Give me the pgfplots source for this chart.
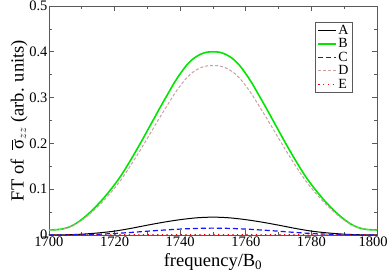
\documentclass[border=0pt]{standalone}
\usepackage{pgfplots}
\pgfplotsset{compat=1.18}
\usepackage{pgfplotstable}
\usepackage{fontspec}
\setmainfont{Liberation Serif}
\definecolor{cB}{RGB}{0,230,0}
\definecolor{cC}{RGB}{20,20,255}
\definecolor{cD}{RGB}{200,160,160}
\definecolor{cE}{RGB}{240,0,0}
\definecolor{frame}{RGB}{90,90,90}
\pgfplotstableread{
x B D
1700 0.011 0.011
1702 0.0115 0.0115
1704 0.013 0.0128
1706 0.017 0.0165
1708 0.024 0.0230
1710 0.034 0.0322
1712 0.046 0.0433
1714 0.060 0.0562
1716 0.075 0.0701
1718 0.092 0.0858
1720 0.110 0.1024
1722 0.130 0.1208
1724 0.153 0.1421
1726 0.177 0.1642
1728 0.202 0.1873
1730 0.228 0.2113
1732 0.254 0.2353
1734 0.280 0.2593
1736 0.305 0.2824
1738 0.330 0.3054
1740 0.352 0.3257
1742 0.371 0.3433
1744 0.385 0.3562
1746 0.394 0.3645
1748 0.399 0.3691
1750 0.400 0.3700
1752 0.399 0.3691
1754 0.394 0.3645
1756 0.385 0.3562
1758 0.371 0.3433
1760 0.352 0.3257
1762 0.330 0.3054
1764 0.305 0.2824
1766 0.280 0.2593
1768 0.254 0.2353
1770 0.228 0.2113
1772 0.202 0.1873
1774 0.177 0.1642
1776 0.153 0.1421
1778 0.130 0.1208
1780 0.110 0.1024
1782 0.092 0.0858
1784 0.075 0.0701
1786 0.060 0.0562
1788 0.046 0.0433
1790 0.034 0.0322
1792 0.024 0.0230
1794 0.017 0.0165
1796 0.013 0.0128
1798 0.0115 0.0115
1800 0.011 0.011
}\tblBD
\pgfplotstableread{
x A C E
1700 0.0002 0.0001 0.0000
1705 0.0005 0.0002 0.0001
1710 0.0018 0.0007 0.0001
1715 0.0045 0.0017 0.0002
1720 0.0085 0.0033 0.0002
1725 0.0145 0.0056 0.0003
1730 0.0215 0.0083 0.0004
1735 0.0280 0.0108 0.0005
1740 0.0335 0.0129 0.0006
1745 0.0375 0.0144 0.0007
1750 0.0390 0.0150 0.0008
1755 0.0375 0.0144 0.0007
1760 0.0335 0.0129 0.0006
1765 0.0280 0.0108 0.0005
1770 0.0215 0.0083 0.0004
1775 0.0145 0.0056 0.0003
1780 0.0085 0.0033 0.0002
1785 0.0045 0.0017 0.0002
1790 0.0018 0.0007 0.0001
1795 0.0005 0.0002 0.0001
1800 0.0002 0.0001 0.0000
}\tblACE
\begin{document}
\begin{tikzpicture}
\path[use as bounding box] (-49pt,-38pt) rectangle (339pt,235pt);
\begin{axis}[
  at={(0,0)}, anchor=south west,
  scale only axis,
  width=328pt, height=229pt,
  xmin=1700, xmax=1800, ymin=0, ymax=0.5,
  xtick={1700,1720,...,1800},
  xticklabels={1700,1720,1740,1760,1780,\hspace*{-8pt}1800},
  ytick={0,0.1,...,0.5},
  minor x tick num=1, minor y tick num=1,
  tick align=inside,
  major tick length=5pt, minor tick length=3pt,
  axis line style={frame, line width=0.9pt},
  every tick/.style={frame, line width=0.7pt},
  tick label style={font=\fontsize{14.5}{14.5}\selectfont},
  /pgf/number format/assume math mode=true,
  /pgf/number format/set thousands separator={},
  yticklabel style={/pgf/number format/fixed, /pgf/number format/precision=1, xshift=2pt},
  xticklabel style={yshift=1.5pt},
  xlabel={frequency/B\textsubscript{0}},
  ylabel={FT of \;$\overline{\hbox{σ}}_{zz}$ (arb. units)},
  label style={font=\fontsize{18.5}{18.5}\selectfont},
  xlabel style={yshift=0pt},
  ylabel style={yshift=-5pt},
  legend style={at={(0.926,0.93)}, anchor=north east, draw=frame, line width=0.6pt,
    font=\fontsize{14}{12.7}\selectfont, inner xsep=2pt, inner ysep=1pt, row sep=-1.3pt,
    legend cell align=left},
]
\addplot[color=black, line width=1pt, smooth] table[x=x,y=A] {\tblACE};
\addplot[color=cB, line width=1.6pt, smooth] table[x=x,y=B] {\tblBD};
\addplot[color=cC, line width=1.2pt, dash pattern=on 5pt off 3pt, smooth] table[x=x,y=C] {\tblACE};
\addplot[color=cD, line width=1pt, dash pattern=on 3pt off 2pt, smooth] table[x=x,y=D] {\tblBD};
\addplot[color=cE, line width=1.3pt, dash pattern=on 1.2pt off 3.5pt, smooth] table[x=x,y=E] {\tblACE};
\legend{}
\addlegendimage{legend image code/.code={\draw[black, line width=1pt] (0pt,0pt) -- (27pt,0pt);}}
\addlegendentry{A}
\addlegendimage{legend image code/.code={\draw[cB, line width=1.6pt] (0pt,0pt) -- (27pt,0pt);}}
\addlegendentry{B}
\addlegendimage{legend image code/.code={\draw[blue, line width=1.2pt, dash pattern=on 5pt off 3pt] (0pt,0pt) -- (27pt,0pt);}}
\addlegendentry{C}
\addlegendimage{legend image code/.code={\draw[cD, line width=1pt, dash pattern=on 3pt off 2pt] (0pt,0pt) -- (27pt,0pt);}}
\addlegendentry{D}
\addlegendimage{legend image code/.code={\draw[cE, line width=1.3pt, dash pattern=on 1.2pt off 3.5pt] (0pt,0pt) -- (27pt,0pt);}}
\addlegendentry{E}
\end{axis}
\end{tikzpicture}
\end{document}
